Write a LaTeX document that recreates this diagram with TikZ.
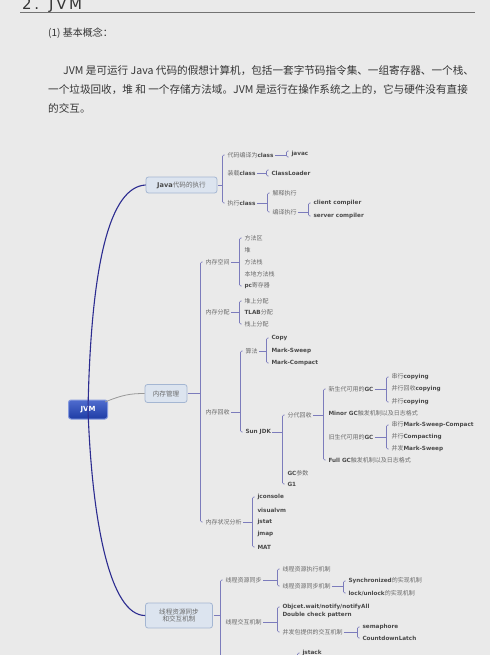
\documentclass[tikz,border=0pt]{standalone}
\usepackage{fontspec}
\setmainfont{DejaVu Sans}
\newfontfamily\cjk{Noto Sans CJK SC}
\newfontfamily\latb{DejaVu Sans}
\usetikzlibrary{calc}
\definecolor{bg}{HTML}{EAEAEA}
\definecolor{txt}{HTML}{6A6A6A}
\definecolor{txtb}{HTML}{4A4A4A}
\definecolor{brc}{HTML}{7C7CBC}
\definecolor{navy}{HTML}{2C2C90}
\definecolor{topicfill}{HTML}{DCE4EF}
\definecolor{topicdraw}{HTML}{A4B6D2}
\definecolor{jvmfill}{HTML}{2347C2}
\definecolor{para}{HTML}{353535}
\newcommand\E[1]{{\latb\bfseries\color{txtb}\fontsize{5.7}{6.5}\selectfont #1}}
\newcommand\brk[3]{%
  \draw[br] ($(#1.east)+(0.8,0)$) -- ($(#1.east -| #2.west)+(-4.5,0)$);
  \draw[br,rounded corners=1.2] ($(#2.west)+(-2.5,0)$) -- ($(#2.west)+(-4.5,0)$) -- ($(#3.west)+(-4.5,0)$) -- ($(#3.west)+(-2.5,0)$);}
\newcommand\brkone[2]{%
  \draw[br] ($(#1.east)+(0.8,0)$) -- ($(#1.east -| #2.west)+(-4.5,0)$);
  \draw[br,rounded corners=1.2] ($(#2.west)+(-2.5,-3)$) -- ($(#2.west)+(-4.5,-3)$) -- ($(#2.west)+(-4.5,3)$) -- ($(#2.west)+(-2.5,3)$);}
\tikzset{
  lbl/.style={anchor=west, inner sep=0.3pt, text=txt, font=\cjk\fontsize{6}{7}\selectfont},
  br/.style={draw=brc, line width=0.55pt},
  topic/.style={draw=topicdraw, fill=topicfill, line width=0.8pt, rounded corners=2.5pt, text=txt,
    font=\cjk\fontsize{6.6}{8}\selectfont, inner sep=1pt, align=center},
  jvmbox/.style={draw=jvmfill!55!white, line width=1pt, rounded corners=2.5pt,
    top color=jvmfill!80!white, bottom color=jvmfill!85!black, text=white,
    font=\latb\bfseries\fontsize{7}{8}\selectfont, minimum width=39pt, minimum height=19pt, inner sep=0pt},
  mcurve/.style={draw=navy, line width=1.1pt},
  gcurve/.style={draw=gray!80, line width=0.8pt},
  ptext/.style={anchor=west, inner sep=0pt, text=para, font=\cjk\fontsize{10.6}{12}\selectfont},
}
\begin{document}
\begin{tikzpicture}[x=1pt,y=-1pt]
\fill[bg] (0,0) rectangle (490,655);
\useasboundingbox (0,0) rectangle (490,655);
\clip (0,0) rectangle (490,655);
% header
\node[anchor=base west, inner sep=0pt, text=para, font=\latb\fontsize{15}{16}\selectfont\addfontfeature{LetterSpace=18}] (title) at (22,10) {2. JVM};
\coordinate (ulA) at (20,12.7);
\coordinate (ulB) at (475,12.7);
\draw[gray!90!black, line width=0.8pt] (ulA) -- (ulB);
\node[ptext, font=\cjk\fontsize{10}{12}\selectfont] (h) at (48,33) {(1) 基本概念：};
\node[ptext] (p1) at (63,71) {JVM 是可运行 Java 代码的假想计算机，包括一套字节码指令集、一组寄存器、一个栈、};
\node[ptext] (p2) at (48,90) {一个垃圾回收，堆 和 一个存储方法域。JVM 是运行在操作系统之上的，它与硬件没有直接};
\node[ptext] (p3) at (48,108) {的交互。};
% root and topics
\node[jvmbox] (jvm) at (88,409.5) {JVM};
\node[topic, minimum width=71pt, minimum height=16pt] (j) at (181.5,185) {\E{\fontsize{6.6}{8}\selectfont Java}代码的执行};
\node[topic, minimum width=42pt, minimum height=18pt] (m) at (166,393.5) {内存管理};
\node[topic, minimum width=67pt, minimum height=25pt, font=\cjk\fontsize{6.6}{7.6}\selectfont] (t) at (179,615.5) {线程资源同步\\和交互机制};
% curves
\draw[mcurve] (jvm.center) .. controls (91,262) and (110,187) .. (j.west);
\draw[mcurve] (jvm.center) .. controls (92,522) and (110,615.5) .. (t.west);
\draw[gcurve] ($(jvm.north east)+(-3,2.5)$) .. controls (122,395) and (130,393.5) .. (m.west);
% Java subtree
\node[lbl] (j1) at (227,155) {代码编译为\E{class}};
\node[lbl] (j1a) at (291,154) {\E{javac}};
\node[lbl] (j2) at (227,173) {装载\E{class}};
\node[lbl] (j2a) at (271,173) {\E{ClassLoader}};
\node[lbl] (j3) at (227,203) {执行\E{class}};
\node[lbl] (j3a) at (272,193) {解释执行};
\node[lbl] (j3b) at (272,212) {编译执行};
\node[lbl] (j3b1) at (313,203) {\E{client compiler}};
\node[lbl] (j3b2) at (313,216) {\E{server compiler}};
\brk{j}{j1}{j3}
\brkone{j1}{j1a}
\brkone{j2}{j2a}
\brk{j3}{j3a}{j3b}
\brk{j3b}{j3b1}{j3b2}
% Memory subtree
\node[lbl] (m1) at (205,262) {内存空间};
\node[lbl] (m1a) at (244,238) {方法区};
\node[lbl] (m1b) at (244,250) {堆};
\node[lbl] (m1c) at (244,262) {方法栈};
\node[lbl] (m1d) at (244,274) {本地方法栈};
\node[lbl] (m1e) at (244,286) {\E{pc}寄存器};
\node[lbl] (m2) at (205,312) {内存分配};
\node[lbl] (m2a) at (244,301) {堆上分配};
\node[lbl] (m2b) at (244,312) {\E{TLAB}分配};
\node[lbl] (m2c) at (244,324) {栈上分配};
\node[lbl] (m3) at (205,412) {内存回收};
\node[lbl] (m3a) at (245,351) {算法};
\node[lbl] (m3a1) at (271,338) {\E{Copy}};
\node[lbl] (m3a2) at (271,351) {\E{Mark-Sweep}};
\node[lbl] (m3a3) at (271,363) {\E{Mark-Compact}};
\node[lbl] (m3b) at (245,432) {\E{Sun JDK}};
\node[lbl] (g) at (287,415) {分代回收};
\node[lbl] (g1) at (328,389) {新生代可用的\E{GC}};
\node[lbl] (g1a) at (391,377) {串行\E{copying}};
\node[lbl] (g1b) at (391,389) {并行回收\E{copying}};
\node[lbl] (g1c) at (391,402) {并行\E{copying}};
\node[lbl] (g2) at (328,413) {\E{Minor GC}触发机制以及日志格式};
\node[lbl] (g3) at (328,437) {旧生代可用的\E{GC}};
\node[lbl] (g3a) at (391,425) {串行\E{Mark-Sweep-Compact}};
\node[lbl] (g3b) at (391,437) {并行\E{Compacting}};
\node[lbl] (g3c) at (391,449) {并发\E{Mark-Sweep}};
\node[lbl] (g4) at (328,460) {\E{Full GC}触发机制以及日志格式};
\node[lbl] (gp) at (287,473) {\E{GC}参数};
\node[lbl] (g5) at (287,484) {\E{G1}};
\node[lbl] (m4) at (205,522) {内存状况分析};
\node[lbl] (m4a) at (257,497) {\E{jconsole}};
\node[lbl] (m4b) at (257,510) {\E{visualvm}};
\node[lbl] (m4c) at (257,522) {\E{jstat}};
\node[lbl] (m4d) at (257,534) {\E{jmap}};
\node[lbl] (m4e) at (257,547) {\E{MAT}};
\brk{m}{m1}{m4}
\brk{m1}{m1a}{m1e}
\brk{m2}{m2a}{m2c}
\brk{m3}{m3a}{m3b}
\brk{m3a}{m3a1}{m3a3}
\brk{m3b}{g}{g5}
\brk{g}{g1}{g4}
\brk{g1}{g1a}{g1c}
\brk{g3}{g3a}{g3c}
\brk{m4}{m4a}{m4e}
% Thread subtree
\node[lbl] (t1) at (225,580) {线程资源同步};
\node[lbl] (t1a) at (282,569) {线程资源执行机制};
\node[lbl] (t1b) at (282,586) {线程资源同步机制};
\node[lbl] (t1b1) at (348,581) {\E{Synchronized}的实现机制};
\node[lbl] (t1b2) at (348,593) {\E{lock/unlock}的实现机制};
\node[lbl] (t2) at (225,622) {线程交互机制};
\node[lbl] (t2a) at (282,607) {\E{Objcet.wait/notify/notifyAll}};
\node[lbl] (t2b) at (282,614.5) {\E{Double check pattern}};
\node[lbl] (t2c) at (282,632) {并发包提供的交互机制};
\node[lbl] (t2c1) at (362,627) {\E{semaphore}};
\node[lbl] (t2c2) at (362,638) {\E{CountdownLatch}};
\node[lbl] (t3a) at (302,653) {\E{jstack}};
\coordinate (tend) at (220.5,662);
\coordinate (jsend) at (297.5,662);
\draw[br] ($(t.east)+(0.8,0)$) -- ($(t.east -| t1.west)+(-4.5,0)$);
\draw[br,rounded corners=1.2] ($(t1.west)+(-2.5,0)$) -- ($(t1.west)+(-4.5,0)$) -- (tend);
\draw[br,rounded corners=1.2] ($(t3a.west)+(-2.5,0)$) -- ($(t3a.west)+(-4.5,0)$) -- (jsend);
\brk{t1}{t1a}{t1b}
\brk{t1b}{t1b1}{t1b2}
\brk{t2}{t2a}{t2c}
\brk{t2c}{t2c1}{t2c2}
\end{tikzpicture}
\end{document}
